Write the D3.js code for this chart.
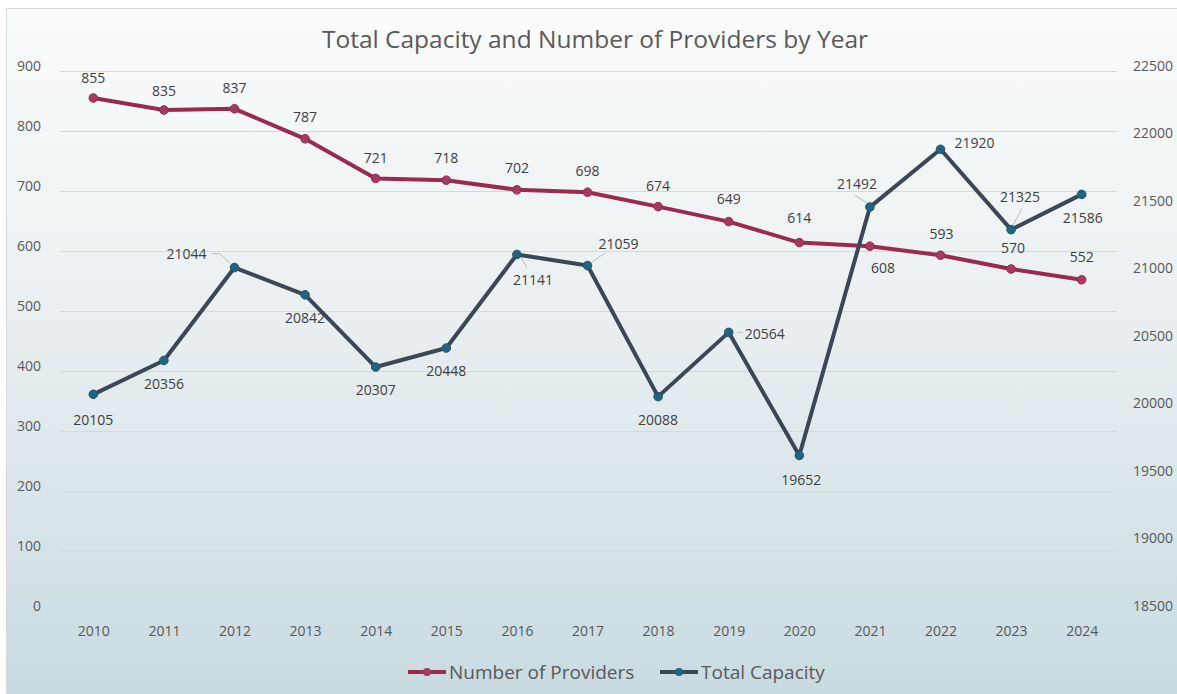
<!DOCTYPE html>
<html>
<head>
<meta charset="utf-8">
<script src="https://cdn.jsdelivr.net/npm/d3@7"></script>
<style>
  html, body { margin: 0; padding: 0; background: #ffffff; }
  svg { display: block; font-family: "Open Sans", "Noto Sans", sans-serif; }
</style>
</head>
<body>
<svg id="chart" width="1177" height="694"></svg>
<script>
// ---- data ----
const years = ["2010","2011","2012","2013","2014","2015","2016","2017","2018","2019","2020","2021","2022","2023","2024"];
const providers = [855, 835, 837, 787, 721, 718, 702, 698, 674, 649, 614, 608, 593, 570, 552];
const capacity = [20105, 20356, 21044, 20842, 20307, 20448, 21141, 21059, 20088, 20564, 19652, 21492, 21920, 21325, 21586];
const leftTicks = [0, 100, 200, 300, 400, 500, 600, 700, 800, 900];
const rightTicks = [18500, 19000, 19500, 20000, 20500, 21000, 21500, 22000, 22500];

// label placement: offset of each label centre from its data point
const providerLabelOffsets = [
  [0,-21],[0,-20],[0,-21],[0,-22],[0,-21],[0,-23],[0,-22],[0,-22],[0,-21],[0,-23],[0,-25],[13,21],[1,-22],[2,-22],[0,-23]
];
const capacityLabelOffsets = [
  [0,25],[0,23],[-48,-14],[0,23],[0,22],[0,22],[16,25],[31,-22],[0,23],[36,1],[2,24],[-13,-24],[34,-7],[9,-33],[1,23]
];
// leader lines; each vertex is [ref, dx, dy], ref "l" = label centre, "p" = data point
const capacityLeaders = {
  2: [["l", 25, 0], ["l", 33, 0], ["p", -3, -3]],
  6: [["p", 4, 3], ["l", -6, -12]],
  7: [["p", 4, -3], ["l", -13, 9]],
  9: [["p", 8, 0], ["p", 14, 0]],
  11: [["l", -2, 12], ["p", -3, -4]],
  13: [["l", 2, 12], ["p", 2, -5]]
};

const W = 1177, H = 694;
const svg = d3.select("#chart");

// background
const defs = svg.append("defs");
const grad = defs.append("linearGradient").attr("id", "bg").attr("x1", 0).attr("y1", 0).attr("x2", 0).attr("y2", 1);
grad.append("stop").attr("offset", "0%").attr("stop-color", "#fbfcfc");
grad.append("stop").attr("offset", "45%").attr("stop-color", "#e9eff1");
grad.append("stop").attr("offset", "100%").attr("stop-color", "#c8dae1");
svg.append("rect").attr("x", 6.5).attr("y", 8.5).attr("width", W).attr("height", H)
  .attr("fill", "url(#bg)").attr("stroke", "#d9d9d9").attr("stroke-width", 1);

// scales
const x = d3.scalePoint().domain(years).range([58, 1117]).padding(0.5);
const yL = d3.scaleLinear().domain([0, 900]).range([611, 71]);
const yR = d3.scaleLinear().domain([18500, 22500]).range([611, 71]);

// gridlines
svg.append("g").selectAll("line").data(leftTicks.filter(d => d > 0)).join("line")
  .attr("x1", 60).attr("x2", 1117)
  .attr("y1", d => yL(d) + 0.5).attr("y2", d => yL(d) + 0.5)
  .attr("stroke", "#d6d9db").attr("stroke-width", 1);

// axes
const axL = svg.append("g").attr("transform", "translate(47,0)")
  .call(d3.axisLeft(yL).tickValues(leftTicks).tickFormat(d3.format("d")).tickSize(0).tickPadding(6));
const axR = svg.append("g").attr("transform", "translate(1127,0)")
  .call(d3.axisRight(yR).tickValues(rightTicks).tickFormat(d3.format("d")).tickSize(0).tickPadding(6));
const axB = svg.append("g").attr("transform", "translate(0,622)")
  .call(d3.axisBottom(x).tickSize(0).tickPadding(4));
[axL, axR, axB].forEach(a => {
  a.select(".domain").remove();
  a.selectAll("text").attr("font-family", "'Open Sans', sans-serif").attr("font-size", 14).attr("fill", "#595959");
});
axL.selectAll("text").attr("dy", "-0.05em");
axR.selectAll("text").attr("dy", "-0.05em");

// title
svg.append("text").attr("x", 595).attr("y", 48).attr("text-anchor", "middle")
  .attr("font-size", 24.5).attr("fill", "#595959").text("Total Capacity and Number of Providers by Year");

const provColor = "#9a2b4f", provMarker = "#a43a63";
const capColor = "#3b4754", capMarker = "#1e6583";

// leader lines (drawn under the series)
const leaderG = svg.append("g");
Object.entries(capacityLeaders).forEach(([k, verts]) => {
  const i = +k;
  const px = x(years[i]), py = yR(capacity[i]);
  const lx = px + capacityLabelOffsets[i][0], ly = py + capacityLabelOffsets[i][1];
  const coords = verts.map(([ref, dx, dy]) => ref === "l" ? [lx + dx, ly + dy] : [px + dx, py + dy]);
  leaderG.append("path").attr("d", d3.line()(coords))
    .attr("fill", "none").attr("stroke", "#b8bcbf").attr("stroke-width", 1);
});

// series lines
const lineProv = d3.line().x((d, i) => x(years[i])).y(d => yL(d));
const lineCap = d3.line().x((d, i) => x(years[i])).y(d => yR(d));

svg.append("path").datum(providers).attr("d", lineProv)
  .attr("fill", "none").attr("stroke", provColor).attr("stroke-width", 4).attr("stroke-linejoin", "round");
svg.append("g").selectAll("circle").data(providers).join("circle")
  .attr("cx", (d, i) => x(years[i])).attr("cy", d => yL(d)).attr("r", 4.3)
  .attr("fill", provMarker).attr("stroke", provColor).attr("stroke-width", 1);

svg.append("path").datum(capacity).attr("d", lineCap)
  .attr("fill", "none").attr("stroke", capColor).attr("stroke-width", 4).attr("stroke-linejoin", "round");
svg.append("g").selectAll("circle").data(capacity).join("circle")
  .attr("cx", (d, i) => x(years[i])).attr("cy", d => yR(d)).attr("r", 4.3)
  .attr("fill", capMarker).attr("stroke", "#2a5468").attr("stroke-width", 1);

// data labels
const lblStyle = sel => sel.attr("font-size", 14).attr("fill", "#404040")
  .attr("text-anchor", "middle").attr("dominant-baseline", "central");

svg.append("g").selectAll("text").data(providers).join("text")
  .call(lblStyle)
  .attr("x", (d, i) => x(years[i]) + providerLabelOffsets[i][0])
  .attr("y", (d, i) => yL(d) + providerLabelOffsets[i][1])
  .text(d => d);

svg.append("g").selectAll("text").data(capacity).join("text")
  .call(lblStyle)
  .attr("x", (d, i) => x(years[i]) + capacityLabelOffsets[i][0])
  .attr("y", (d, i) => yR(d) + capacityLabelOffsets[i][1])
  .text(d => d);

// legend
const legend = [
  { name: "Number of Providers", color: provColor, marker: provMarker, x: 408 },
  { name: "Total Capacity", color: capColor, marker: capMarker, x: 660 }
];
const lg = svg.append("g").selectAll("g").data(legend).join("g")
  .attr("transform", d => `translate(${d.x},672)`);
lg.append("line").attr("x1", 0).attr("x2", 38).attr("y1", 0).attr("y2", 0)
  .attr("stroke", d => d.color).attr("stroke-width", 4);
lg.append("circle").attr("cx", 19).attr("cy", 0).attr("r", 4).attr("fill", d => d.marker);
lg.append("text").attr("x", 41).attr("y", 0).attr("dominant-baseline", "central")
  .attr("font-size", 19).attr("fill", "#595959").text(d => d.name);
</script>
</body>
</html>
